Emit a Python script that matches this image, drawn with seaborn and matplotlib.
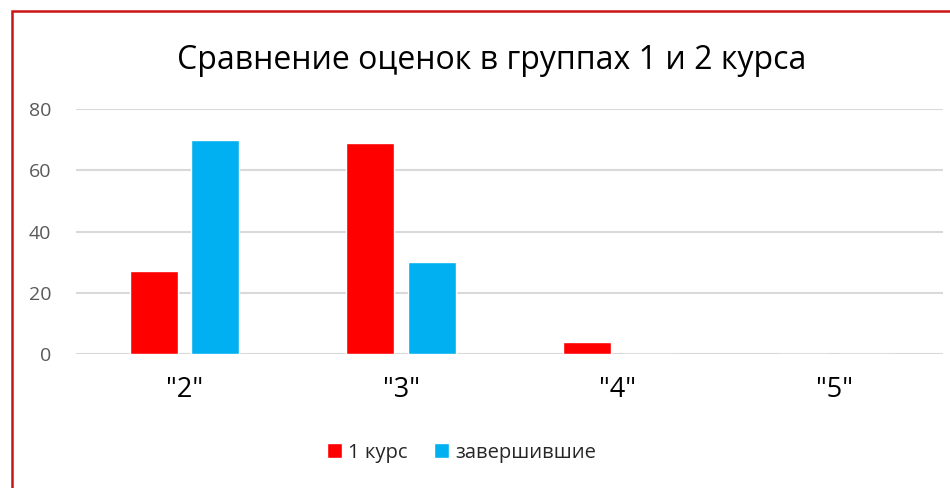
import pandas as pd
import seaborn as sns
import matplotlib.pyplot as plt
from matplotlib.patches import Rectangle

# --- данные ---
grades = ['"2"', '"3"', '"4"', '"5"']
first_year = [27, 69, 4, 0]
finished = [70, 30, 0, 0]
series_names = ["1 курс", "завершившие"]

df = pd.DataFrame({
    "grade": grades * 2,
    "value": first_year + finished,
    "group": [series_names[0]] * len(grades) + [series_names[1]] * len(grades),
})

sns.set_theme(style="white")
plt.rcParams["font.family"] = ["Open Sans", "DejaVu Sans"]

fig = plt.figure(figsize=(9.5, 4.88), dpi=100)
ax = fig.add_axes([0.08, 0.2746, 0.9126, 0.502])

sns.barplot(data=df, x="grade", y="value", hue="group",
            palette=["#FF0000", "#00B0F0"], width=0.567, gap=0.22,
            saturation=1, ax=ax)

ax.set_xlim(-0.5, 3.5)
ax.set_ylim(0, 80)
ax.set_yticks([0, 20, 40, 60, 80])
ax.yaxis.grid(True, color="#D9D9D9", lw=1.5)
ax.set_axisbelow(True)
sns.despine(ax=ax, left=True, bottom=True)
ax.set_xlabel("")
ax.set_ylabel("")
ax.tick_params(axis="y", labelsize=14, labelcolor="#595959", length=0, pad=18)
ax.tick_params(axis="x", labelsize=19.5, labelcolor="black", length=0, pad=16)

sns.move_legend(ax, "center", bbox_to_anchor=(0.486, 0.072),
                bbox_transform=fig.transFigure, ncol=2, frameon=False,
                title=None, fontsize=14.5, handlelength=0.75, handleheight=0.75,
                handletextpad=0.3, columnspacing=1.3)

fig.text(0.518, 0.877, "Сравнение оценок в группах 1 и 2 курса",
         ha="center", va="center", fontsize=23, color="black")

# красная рамка вокруг диаграммы (видны только верх и левый край)
fig.patches.append(Rectangle((11.5 / 950, -0.05), 1.1, 1 - 10.5 / 488 + 0.05,
                             transform=fig.transFigure, fill=False,
                             edgecolor="#CC1414", lw=1.8))

fig.savefig("out.png", dpi=100)
